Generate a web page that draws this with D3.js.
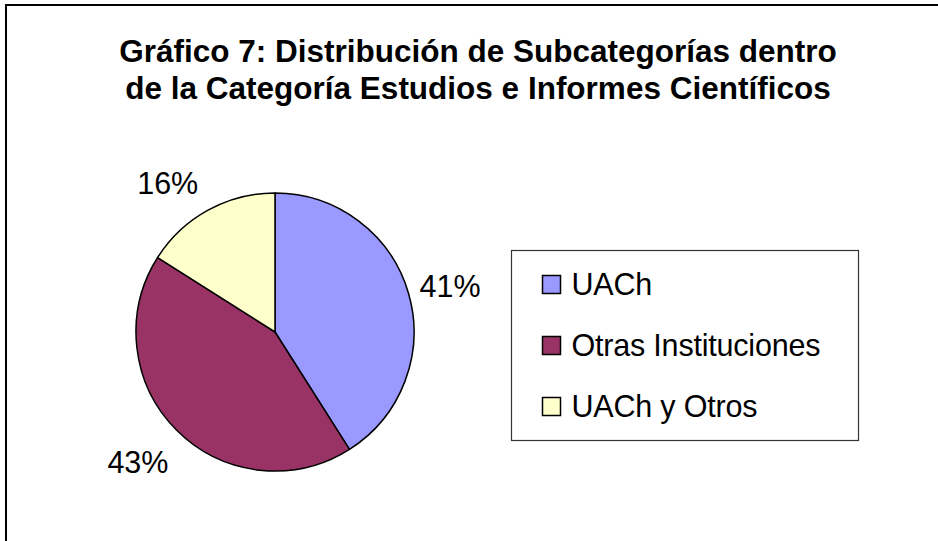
<!DOCTYPE html>
<html>
<head>
<meta charset="utf-8">
<script src="https://cdn.jsdelivr.net/npm/d3@7"></script>
<style>
  html, body { margin: 0; padding: 0; background: #fff; }
  svg { display: block; }
  text { font-family: "Liberation Sans", Arial, sans-serif; fill: #000; }
</style>
</head>
<body>
<svg id="chart" width="938" height="541"></svg>
<script>
const titleLines = ["Gráfico 7: Distribución de Subcategorías dentro", "de la Categoría Estudios e Informes Científicos"];
const categories = ["UACh", "Otras Instituciones", "UACh y Otros"];
const values = [41, 43, 16];
const colors = ["#9999FF", "#993366", "#FFFFCC"];

const svg = d3.select("#chart");

// outer chart border (extends past the right and bottom edges)
svg.append("rect").attr("x", 6).attr("y", 5).attr("width", 960).attr("height", 560)
  .attr("fill", "#fff").attr("stroke", "#000").attr("stroke-width", 2);

// title
const title = svg.append("text").attr("text-anchor", "middle")
  .style("font-weight", "bold").style("font-size", "31.5px");
titleLines.forEach((t, i) => {
  title.append("tspan").attr("x", 478).attr("y", 62 + i * 37).text(t);
});

// pie
const cx = 275, cy = 332, r = 139;
const g = svg.append("g").attr("transform", `translate(${cx},${cy})`);
const pie = d3.pie().sort(null).value(d => d)(values);
const arc = d3.arc().innerRadius(0).outerRadius(r);
g.selectAll("path").data(pie).join("path")
  .attr("d", arc)
  .attr("fill", (d, i) => colors[i])
  .attr("stroke", "#000").attr("stroke-width", 1.5).attr("stroke-linejoin", "round");

// percentage labels outside the pie
const total = d3.sum(values);
const labelRadius = [181, 189, 184];
const labelAngleShift = [0.025, 0.026, -0.12];
g.selectAll("text.lbl").data(pie).join("text")
  .attr("class", "lbl")
  .attr("text-anchor", "middle")
  .attr("dy", "0.36em")
  .style("font-size", "30.5px")
  .attr("transform", (d, i) => {
    const a = (d.startAngle + d.endAngle) / 2 + labelAngleShift[i];
    const rr = labelRadius[i];
    return `translate(${Math.sin(a) * rr},${-Math.cos(a) * rr})`;
  })
  .text(d => Math.round(d.value / total * 100) + "%");

// legend
const lx = 511.5, ly = 250.5, lw = 347, lh = 190;
svg.append("rect").attr("x", lx).attr("y", ly).attr("width", lw).attr("height", lh)
  .attr("fill", "#fff").attr("stroke", "#333").attr("stroke-width", 1.2);
const ly0 = d3.scalePoint().domain(categories).range([ly + 34, ly + 156]);
const leg = svg.append("g").selectAll("g").data(categories).join("g")
  .attr("transform", d => `translate(${lx + 31},${ly0(d)})`);
leg.append("rect").attr("x", 0).attr("y", -9).attr("width", 18).attr("height", 18)
  .attr("fill", (d, i) => colors[i]).attr("stroke", "#000").attr("stroke-width", 1.5);
leg.append("text").attr("x", 29).attr("dy", "0.36em").style("font-size", "30.5px")
  .style("letter-spacing", "-0.2px").text(d => d);
</script>
</body>
</html>
